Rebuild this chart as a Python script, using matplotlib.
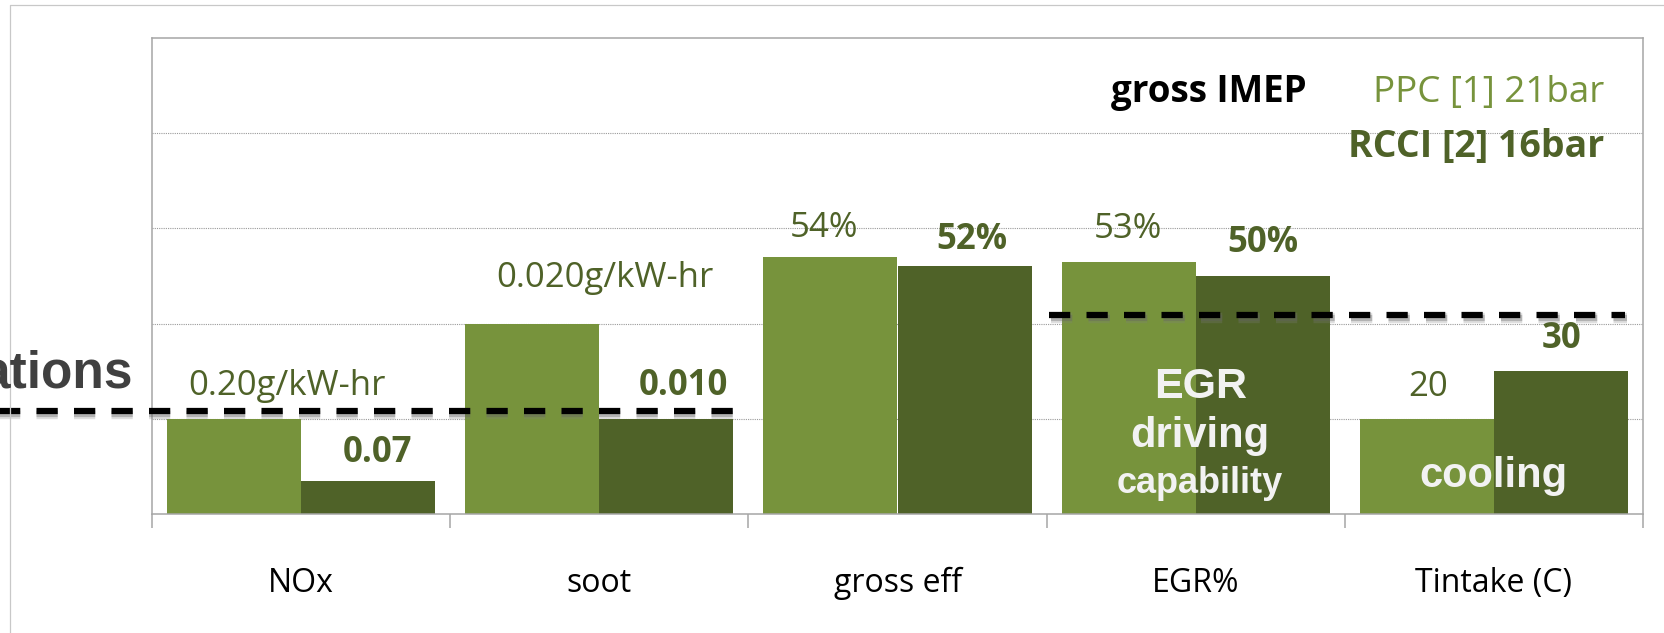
import matplotlib.pyplot as plt
import matplotlib.patheffects as pe
import numpy as np

categories = ["NOx", "soot", "gross eff", "EGR%", "Tintake (C)"]
ppc_values = [0.20, 0.020, 54, 53, 20]
rcci_values = [0.07, 0.010, 52, 50, 30]
# each group is scaled by its own unit so they can share one axis
units = [0.20, 0.010, 20, 20, 20]
ppc_labels = ["0.20g/kW-hr", "0.020g/kW-hr", "54%", "53%", "20"]
rcci_labels = ["0.07", "0.010", "52%", "50%", "30"]

PPC = "#77933C"
RCCI = "#4F6228"
GRAY = "#A6A6A6"
LBL = "Open Sans"
BOLD = "Liberation Sans"

fig = plt.figure(figsize=(16.64, 6.33), dpi=100)
W, H = 1664, 633
ax = fig.add_axes([152 / W, (H - 514) / H, (1643 - 152) / W, (514 - 38) / H])

x = np.arange(len(categories))
w = 0.45
ppc_h = np.array(ppc_values) / np.array(units)
rcci_h = np.array(rcci_values) / np.array(units)

ax.bar(x - w / 2, ppc_h, w, color=PPC, zorder=2)
ax.bar(x + w / 2, rcci_h, w, color=RCCI, zorder=2)

ax.set_xlim(-0.5, 4.5)
ax.set_ylim(0, 5)
ax.set_yticks([1, 2, 3, 4])
ax.yaxis.grid(True, linestyle=(0, (1, 1)), color="#9A9A9A", linewidth=0.8)
ax.set_axisbelow(True)
ax.tick_params(axis="y", length=0, labelleft=False)
ax.set_xticks(np.arange(-0.5, 5, 1))
ax.tick_params(axis="x", length=10, width=1.1, color=GRAY, labelbottom=False)
for s in ax.spines.values():
    s.set_color(GRAY)
    s.set_linewidth(1.1)

for xi, cat in zip(x, categories):
    ax.annotate(cat, xy=(xi, 0), xytext=(0, -78), textcoords="offset pixels",
                ha="center", va="baseline", fontsize=23, family=LBL, color="black")

# value labels: pixel offsets from each bar top
ppc_off = [(53, 24), (73, 37), (-6, 20), (-1, 24), (1, 23)]
rcci_off = [(9, 19), (17, 24), (7, 17), (0, 24), (1, 23)]
for i in range(len(categories)):
    ax.annotate(ppc_labels[i], xy=(x[i] - w / 2, ppc_h[i]), xytext=ppc_off[i],
                textcoords="offset pixels", ha="center", va="baseline",
                fontsize=25, family=LBL, color=RCCI)
    ax.annotate(rcci_labels[i], xy=(x[i] + w / 2, rcci_h[i]), xytext=rcci_off[i],
                textcoords="offset pixels", ha="center", va="baseline",
                fontsize=25, family=LBL, fontweight="bold", color=RCCI)

# limit lines
shadow = [pe.SimpleLineShadow(offset=(1.5, -2.2), shadow_color="#808080", alpha=0.25, linewidth=7.5),
          pe.SimpleLineShadow(offset=(1.5, -2.2), shadow_color="#606060", alpha=0.35),
          pe.Normal()]
for x0, x1, y in [(-1.2, 1.482, 1.084), (2.508, 4.44, 2.093)]:
    ax.plot([x0, x1], [y, y], color="black", linewidth=4.5, dashes=(3.4, 2.6),
            clip_on=False, zorder=5, path_effects=shadow)

# notes on the bars
ax.text(3.015, 1.217, "EGR", ha="center", va="baseline", fontsize=31,
        family=BOLD, fontweight="bold", color="#F2F2F2", zorder=6)
ax.text(3.015, 0.703, "driving", ha="center", va="baseline", fontsize=30,
        family=BOLD, fontweight="bold", color="#F2F2F2", zorder=6)
ax.text(3.015, 0.22, "capability", ha="center", va="baseline", fontsize=26,
        family=BOLD, fontweight="bold", color="#F2F2F2", zorder=6)
ax.text(4.0, 0.283, "cooling", ha="center", va="baseline", fontsize=30,
        family=BOLD, fontweight="bold", color="#F2F2F2", zorder=6)

# legend text
fig.text(1307 / W, 1 - 102 / H, "gross IMEP", ha="right", va="baseline",
         fontsize=26.5, family=LBL, fontweight="bold", color="black")
fig.text(1604 / W, 1 - 102 / H, "PPC [1] 21bar", ha="right", va="baseline",
         fontsize=26.5, family=LBL, color=PPC)
fig.text(1604 / W, 1 - 157 / H, "RCCI [2] 16bar", ha="right", va="baseline",
         fontsize=27, family=LBL, fontweight="bold", color=RCCI)

fig.text(133 / W, 1 - 388 / H, "ations", ha="right", va="baseline",
         fontsize=37, family=BOLD, fontweight="bold", color="#404040")

# outer frame
fig.add_artist(plt.Line2D([10 / W, 10 / W, 1.0], [0, 1 - 5 / H, 1 - 5 / H],
                          color="#C8C8C8", linewidth=0.9))

fig.savefig("out.png", dpi=100)
